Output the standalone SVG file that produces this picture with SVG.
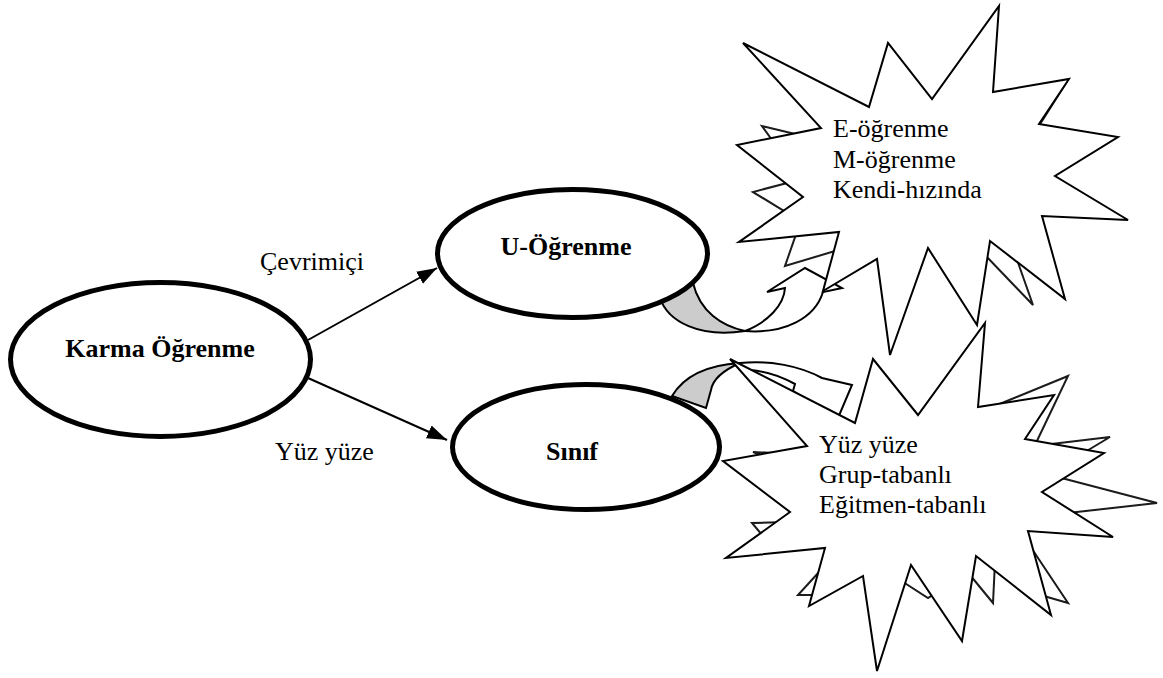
<svg xmlns="http://www.w3.org/2000/svg" width="1163" height="678" viewBox="0 0 1163 678">
<defs>
<style>
.ell{fill:#fff;stroke:#000;stroke-width:5}
.lbl{font-family:"Liberation Serif","Times New Roman",serif;font-size:26px;fill:#000}
.b{font-weight:bold}
.star{fill:#fff;stroke:#000;stroke-width:2;stroke-linejoin:miter}
.shadow{fill:none;stroke:#1a1a1a;stroke-width:2;filter:url(#soft)}
.conn{stroke:#000;stroke-width:2;fill:none}
.cgray{fill:#cccccc;stroke:#000;stroke-width:2;filter:url(#soft)}
.cwhite{fill:#fff;stroke:#000;stroke-width:2;filter:url(#soft)}
</style>
<filter id="soft" x="-5%" y="-5%" width="110%" height="110%"><feGaussianBlur stdDeviation="0.5"/></filter>
<marker id="ah" markerUnits="userSpaceOnUse" markerWidth="20" markerHeight="14" refX="20" refY="7" orient="auto"><path d="M0,0 L20,7 L0,14 z" fill="#000"/></marker>
</defs>
<rect width="1163" height="678" fill="#fff"/>

<g id="connectors">
  <line class="conn" x1="308" y1="340" x2="437" y2="268" marker-end="url(#ah)"/>
  <line class="conn" x1="308" y1="378" x2="447" y2="440" marker-end="url(#ah)"/>
  <g id="curved-arrow-1">
    <path class="cgray" d="M660,298 C668,322 700,338 745,331 C722,326 700,312 693,283 Z"/>
    <path class="cwhite" d="M745,331 C785,334 815,318 823,292 L842,288 L805,268 L767,292 L785,288 C784,305 768,322 745,331 Z"/>
  </g>
  <g id="curved-arrow-2">
    <path class="cgray" d="M672,396 C684,376 708,365 740,363 C724,370 713,378 711,390 L706,408 Z"/>
    <path class="cwhite" d="M740,363 C770,360 800,366 822,378 L852,385 L838,418 L793,391 L795,384 C775,373 757,369 740,370 Z"/>
  </g>
</g>

<g id="node-karma">
  <ellipse class="ell" cx="160.5" cy="359.5" rx="150" ry="77"/>
  <text class="lbl b" x="160" y="357" text-anchor="middle">Karma Öğrenme</text>
</g>

<g id="node-u-ogrenme">
  <ellipse class="ell" cx="572.5" cy="253.5" rx="135" ry="64"/>
  <text class="lbl b" x="566" y="255" text-anchor="middle">U-Öğrenme</text>
</g>

<g id="node-sinif">
  <ellipse class="ell" cx="586" cy="447" rx="133.5" ry="62.5"/>
  <text class="lbl b" x="572" y="460" text-anchor="middle">Sınıf</text>
</g>

<g id="edge-labels">
  <text class="lbl" x="260" y="270">Çevrimiçi</text>
  <text class="lbl" x="275" y="460">Yüz yüze</text>
</g>

<g id="node-star-online">
  <g id="star1-shadow">
    <polyline class="shadow" points="785,158 762,126 820,140"/>
    <polyline class="shadow" points="810,177 753,192 815,230"/>
    <polyline class="shadow" points="801,220 785,266 845,248"/>
    <polyline class="shadow" points="1000,100 1066,83 1030,140"/>
    <polyline class="shadow" points="1010,240 1033,305 985,255"/>
  </g>
  <polygon class="star" points="743,43 869,107 888,43 932,99 999,6 993,92 1069,79 1039,124 1118,137 1055,176 1128,220 1042,216 1065,299 990,241 977,325 928,248 890,355 877,259 823,291 839,232 739,242 803,197 737,145 821,128"/>
  <text class="lbl" x="833" y="137">E-öğrenme</text>
  <text class="lbl" x="833" y="168">M-öğrenme</text>
  <text class="lbl" x="833" y="198">Kendi-hızında</text>
</g>

<g id="node-star-class">
  <g id="star2-shadow">
    <polyline class="shadow" points="985,410 1068,376 1035,445"/>
    <polyline class="shadow" points="1043,445 1110,437 1085,452"/>
    <polyline class="shadow" points="1050,475 1157,503 1050,515"/>
    <polyline class="shadow" points="1026,540 1068,603 1030,592"/>
    <polyline class="shadow" points="970,575 993,603 995,562"/>
    <polyline class="shadow" points="900,580 928,598 940,590"/>
    <polyline class="shadow" points="830,560 798,595 818,595"/>
    <polyline class="shadow" points="790,522 752,523 768,542"/>
    <polyline class="shadow" points="810,455 753,452 800,470"/>
  </g>
  <polygon class="star" points="730,359 855,423 873,359 918,415 985,323 978,407 1054,395 1025,439 1104,453 1042,492 1113,537 1028,531 1051,615 976,556 962,641 911,565 877,671 863,576 809,606 825,548 726,558 790,512 723,461 807,446"/>
  <text class="lbl" x="819" y="453">Yüz yüze</text>
  <text class="lbl" x="819" y="483">Grup-tabanlı</text>
  <text class="lbl" x="819" y="513">Eğitmen-tabanlı</text>
</g>
</svg>
